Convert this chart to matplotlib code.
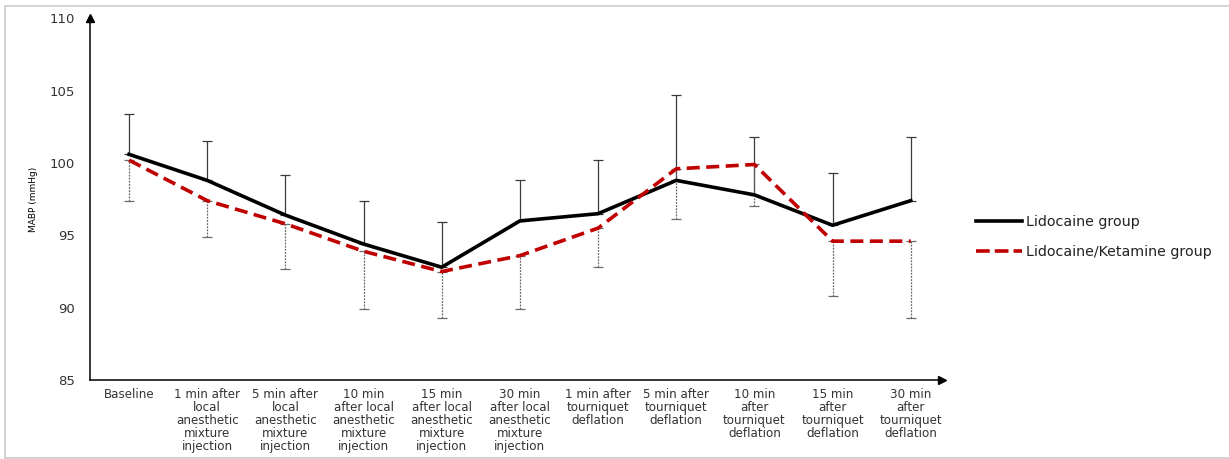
import matplotlib.pyplot as plt
from matplotlib.lines import Line2D

# Time points of measurement
labels = ['Baseline',
          '1 min after\nlocal\nanesthetic\nmixture\ninjection',
          '5 min after\nlocal\nanesthetic\nmixture\ninjection',
          '10 min\nafter local\nanesthetic\nmixture\ninjection',
          '15 min\nafter local\nanesthetic\nmixture\ninjection',
          '30 min\nafter local\nanesthetic\nmixture\ninjection',
          '1 min after\ntourniquet\ndeflation',
          '5 min after\ntourniquet\ndeflation',
          '10 min\nafter\ntourniquet\ndeflation',
          '15 min\nafter\ntourniquet\ndeflation',
          '30 min\nafter\ntourniquet\ndeflation']

# Mean arterial blood pressure (mmHg) and SD
lido_mean = [100.6, 98.8, 96.4, 94.4, 92.8, 96.0, 96.5, 98.8, 97.8, 95.7, 97.4]
lido_sd = [2.8, 2.7, 2.8, 3.0, 3.1, 2.8, 3.7, 5.9, 4.0, 3.6, 4.4]
keta_mean = [100.2, 97.4, 95.8, 93.9, 92.5, 93.6, 95.5, 99.6, 99.9, 94.6, 94.6]
keta_sd = [2.8, 2.5, 3.1, 4.0, 3.2, 3.7, 2.7, 3.5, 2.9, 3.8, 5.3]

x = list(range(len(labels)))

fig = plt.figure(figsize=(12.29, 4.59), dpi=100)
ax = fig.add_axes([0.0732, 0.172, 0.6933, 0.788])

# one-sided error bars: up for lidocaine, down for lidocaine/ketamine
ax.errorbar(x, lido_mean, yerr=[[0] * len(x), lido_sd], fmt='none',
            ecolor='#3a3a3a', elinewidth=0.9, capsize=3.5, capthick=0.9,
            zorder=2)
eb = ax.errorbar(x, keta_mean, yerr=[keta_sd, [0] * len(x)], fmt='none',
                 ecolor='#6a6a6a', elinewidth=0.9, capsize=3.5, capthick=0.9,
                 zorder=2)
eb[2][0].set_linestyle((0, (1.5, 1.0)))

ax.plot(x, lido_mean, color='black', lw=2.6, solid_joinstyle='miter',
        label='Lidocaine group', zorder=3)
ax.plot(x, keta_mean, color='#c00000', lw=2.6, dashes=(3.6, 1.8),
        label='Lidocaine/Ketamine group', zorder=4)

ax.set_xlim(-0.5, 10.4)
ax.set_ylim(85, 110)
ax.set_yticks([85, 90, 95, 100, 105, 110])
ax.set_xticks(x)
ax.set_xticklabels(labels, fontsize=8.6, color='#333333', linespacing=0.98)
ax.tick_params(axis='both', length=0)
ax.tick_params(axis='y', pad=11, labelsize=9.5, labelcolor='#333333')
ax.tick_params(axis='x', pad=6)
ax.set_ylabel('MABP (mmHg)', fontsize=6.5, labelpad=8)

for side in ['top', 'right']:
    ax.spines[side].set_visible(False)
for side in ['left', 'bottom']:
    ax.spines[side].set_linewidth(1.1)
    ax.spines[side].set_color('black')

# arrow heads on the axes
ax.plot(0, 1, marker='^', color='black', markersize=6,
        transform=ax.transAxes, clip_on=False)
ax.plot(1, 0, marker='>', color='black', markersize=6,
        transform=ax.transAxes, clip_on=False)

handles = [Line2D([], [], color='black', lw=2.6),
           Line2D([], [], color='#c00000', lw=2.6, dashes=(3.8, 1.4))]
fig.legend(handles, ['Lidocaine group', 'Lidocaine/Ketamine group'],
           loc='center left', bbox_to_anchor=(0.786, 0.484), frameon=False,
           fontsize=10.3, handlelength=3.2, handletextpad=0.3,
           labelspacing=1.1, labelcolor='#222222', borderpad=0.2)

# light frame around the figure
frame = dict(color='#cccccc', lw=1.2, transform=fig.transFigure)
fig.add_artist(Line2D([0.004, 1.0], [0.987, 0.987], **frame))
fig.add_artist(Line2D([0.004, 1.0], [0.003, 0.003], **frame))
fig.add_artist(Line2D([0.004, 0.004], [0.003, 0.987], **frame))

fig.savefig('out.png', dpi=100)
